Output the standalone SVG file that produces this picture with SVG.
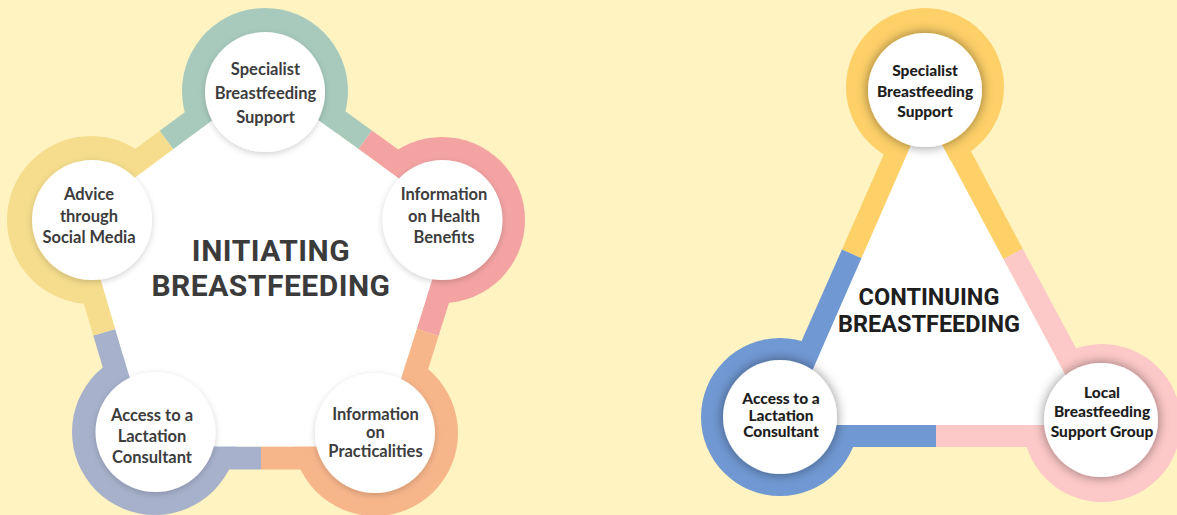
<svg xmlns="http://www.w3.org/2000/svg" width="1177" height="515" viewBox="0 0 1177 515">
<defs>
<filter id="sh1" x="-30%" y="-30%" width="160%" height="160%">
<feDropShadow dx="0" dy="2" stdDeviation="3" flood-color="#000" flood-opacity="0.18"/>
</filter>
<filter id="sh2" x="-30%" y="-30%" width="160%" height="160%">
<feDropShadow dx="0" dy="0" stdDeviation="6" flood-color="#000" flood-opacity="0.45"/>
</filter>
<style>
.band{fill:none;stroke-width:23;stroke-linecap:butt}
.band2{fill:none;stroke-width:22;stroke-linecap:butt}
.lbl{font-family:Lato,"Open Sans","Liberation Sans",sans-serif;font-weight:700;font-size:16.5px;fill:#3d3d3d;text-anchor:middle}
.lbl2{font-family:Lato,"Open Sans","Liberation Sans",sans-serif;font-weight:900;font-size:15.5px;fill:#1e1e1e;text-anchor:middle}
.ttl{font-family:Roboto,"Liberation Sans",sans-serif;font-weight:700;text-anchor:middle}
.wc1{fill:#fff;filter:url(#sh1)}
.wc2{fill:#fff;filter:url(#sh2)}
</style>
</defs>
<rect x="0" y="0" width="1177" height="515" fill="#FFF3C1"/>

<g id="rings">
<circle cx="265" cy="91" r="83" fill="#A8CABD"/>
<circle cx="442" cy="220" r="83" fill="#F4A3A3"/>
<circle cx="375" cy="433" r="83" fill="#F7B58A"/>
<circle cx="155" cy="432" r="83" fill="#A7B1CB"/>
<circle cx="91" cy="220" r="84" fill="#F6DD8D"/>
<circle cx="925" cy="87" r="79" fill="#FDD068"/>
<circle cx="780" cy="417" r="79" fill="#7098D2"/>
<circle cx="1102" cy="423" r="79" fill="#FDC8C8"/>
</g>

<g id="connectors">
<line class="band" x1="276.7" y1="75.8" x2="365.2" y2="139.8" stroke="#A8CABD"/>
<line class="band" x1="365.2" y1="139.8" x2="453.7" y2="203.8" stroke="#F4A3A3"/>
<line class="band" x1="461.1" y1="226" x2="427.6" y2="332.5" stroke="#F4A3A3"/>
<line class="band" x1="427.6" y1="332.5" x2="394.1" y2="439" stroke="#F7B58A"/>
<line class="band" x1="375" y1="458" x2="261" y2="458" stroke="#F7B58A"/>
<line class="band" x1="261" y1="458" x2="155" y2="458" stroke="#A7B1CB"/>
<line class="band" x1="135.8" y1="438.7" x2="104.3" y2="332.2" stroke="#A7B1CB"/>
<line class="band" x1="104.3" y1="332.2" x2="72.8" y2="225.7" stroke="#F6DD8D"/>
<line class="band" x1="80.1" y1="203.9" x2="166.6" y2="139.9" stroke="#F6DD8D"/>
<line class="band" x1="166.6" y1="139.9" x2="253.1" y2="75.9" stroke="#A8CABD"/>

<line class="band2" x1="925" y1="88" x2="852" y2="254" stroke="#FDD068"/>
<line class="band2" x1="852" y1="254" x2="771.6" y2="436" stroke="#7098D2"/>
<line class="band2" x1="925" y1="88" x2="1013" y2="254" stroke="#FDD068"/>
<line class="band2" x1="1013" y1="254" x2="1110.5" y2="436" stroke="#FDC8C8"/>
<line class="band2" x1="771.6" y1="436" x2="936" y2="436" stroke="#7098D2"/>
<line class="band2" x1="936" y1="436" x2="1110.5" y2="436" stroke="#FDC8C8"/>

<polygon points="264.9,81.5 452,216.7 379.7,446.5 150.1,446.5 82.1,216.8" fill="#fff"/>
<polygon points="925,113 788.5,425 1092.2,425" fill="#fff"/>
</g>

<g id="title-initiating">
<text class="ttl" x="271" y="261" font-size="30" letter-spacing="0.5" fill="#3b3b3b">INITIATING</text>
<text class="ttl" x="271" y="296" font-size="30" letter-spacing="0.5" fill="#3b3b3b">BREASTFEEDING</text>
</g>

<g id="node-l-specialist">
<circle class="wc1" cx="265" cy="92" r="60"/>
<text class="lbl" x="265.5" y="75">Specialist</text>
<text class="lbl" x="265.5" y="99">Breastfeeding</text>
<text class="lbl" x="265.5" y="123">Support</text>
</g>

<g id="node-l-health">
<circle class="wc1" cx="442.5" cy="220" r="60"/>
<text class="lbl" x="444" y="200">Information</text>
<text class="lbl" x="444" y="222">on Health</text>
<text class="lbl" x="444" y="243">Benefits</text>
</g>

<g id="node-l-practicalities">
<circle class="wc1" cx="375" cy="433" r="60"/>
<text class="lbl" x="375.5" y="420">Information</text>
<text class="lbl" x="375.5" y="438">on</text>
<text class="lbl" x="375.5" y="457">Practicalities</text>
</g>

<g id="node-l-lactation">
<circle class="wc1" cx="155.5" cy="432" r="60"/>
<text class="lbl" x="152" y="421">Access to a</text>
<text class="lbl" x="152" y="442">Lactation</text>
<text class="lbl" x="152" y="463">Consultant</text>
</g>

<g id="node-l-social">
<circle class="wc1" cx="92" cy="220" r="60"/>
<text class="lbl" x="89" y="200">Advice</text>
<text class="lbl" x="89" y="222">through</text>
<text class="lbl" x="89" y="243">Social Media</text>
</g>

<g id="title-continuing">
<text class="ttl" x="929" y="305" font-size="23.5" fill="#1e1e1e">CONTINUING</text>
<text class="ttl" x="929" y="332" font-size="23.5" fill="#1e1e1e">BREASTFEEDING</text>
</g>

<g id="node-r-specialist">
<circle class="wc2" cx="925" cy="90" r="57"/>
<text class="lbl2" x="925" y="76" font-size="16">Specialist</text>
<text class="lbl2" x="925" y="96.5" font-size="16">Breastfeeding</text>
<text class="lbl2" x="925" y="117" font-size="16">Support</text>
</g>

<g id="node-r-lactation">
<circle class="wc2" cx="780" cy="417" r="57"/>
<text class="lbl2" x="781" y="404">Access to a</text>
<text class="lbl2" x="781" y="420.5">Lactation</text>
<text class="lbl2" x="781" y="437">Consultant</text>
</g>

<g id="node-r-local">
<circle class="wc2" cx="1101" cy="420" r="57"/>
<text class="lbl2" x="1102" y="398">Local</text>
<text class="lbl2" x="1102" y="417">Breastfeeding</text>
<text class="lbl2" x="1102" y="437">Support Group</text>
</g>
</svg>
